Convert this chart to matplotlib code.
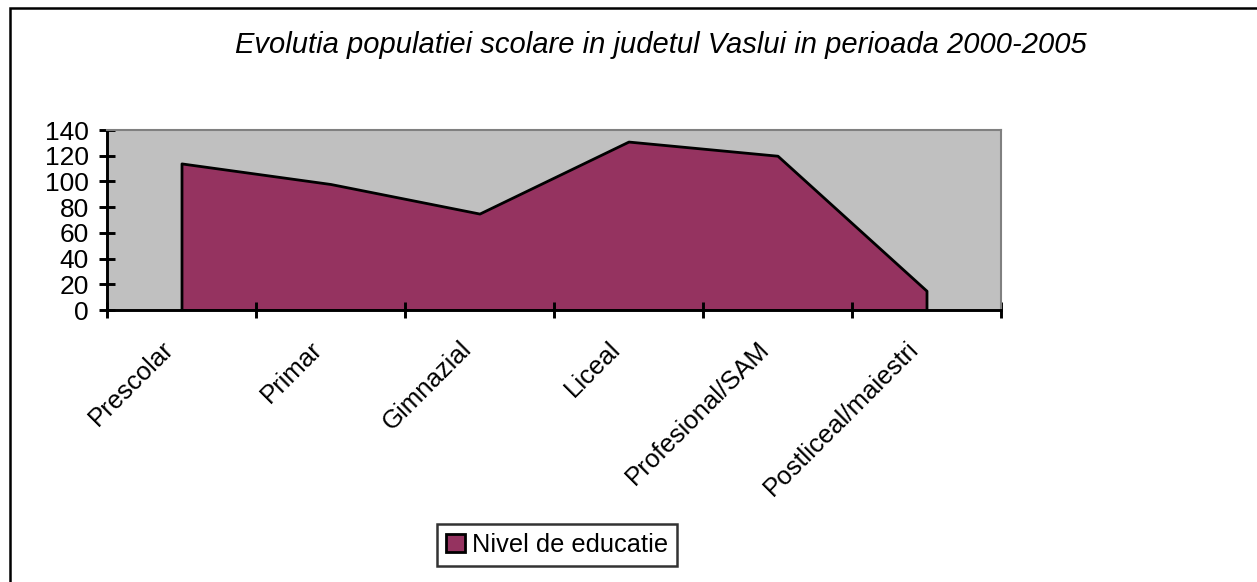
import numpy as np
from matplotlib import pyplot as plt
from matplotlib.patches import Rectangle, Patch

plt.rcParams['font.family'] = ['Liberation Sans', 'DejaVu Sans']

categories = ['Prescolar', 'Primar', 'Gimnazial', 'Liceal', 'Profesional/SAM', 'Postliceal/maiestri']
values = [114, 98, 75, 131, 120, 15]
series_name = 'Nivel de educatie'
title = 'Evolutia populatiei scolare in judetul Vaslui in perioada 2000-2005'
yticks = [0, 20, 40, 60, 80, 100, 120, 140]

W, H = 1257, 582
fig = plt.figure(figsize=(W / 100, H / 100), dpi=100)

# outer chart border (runs off the right and bottom edge)
fig.patches.append(Rectangle((10 / W, -0.05), 1.1, 1 - 8 / H + 0.05, transform=fig.transFigure,
                             fill=False, edgecolor='black', linewidth=1.8))

ax = fig.add_axes([107 / W, 1 - 310 / H, (1001 - 107) / W, (310 - 130) / H])
ax.set_facecolor('#C0C0C0')

x = np.arange(len(categories))
ax.fill_between(x, values, 0, facecolor='#953360', edgecolor='black', linewidth=2)

ax.set_xlim(-0.5, len(categories) - 0.5)
ax.set_ylim(0, 140)
ax.set_yticks(yticks)
ax.set_xticks(np.arange(len(categories) + 1) - 0.5)
ax.set_xticklabels([])
ax.tick_params(axis='both', direction='inout', length=12, width=2.1, color='black')
ax.tick_params(axis='y', labelsize=19, pad=7)

for s in ['top', 'right']:
    ax.spines[s].set_color('#808080')
    ax.spines[s].set_linewidth(1.5)
for s in ['left', 'bottom']:
    ax.spines[s].set_color('black')
    ax.spines[s].set_linewidth(2.1)

for i, lab in enumerate(categories):
    ax.annotate(lab, xy=(i, 0), xycoords=('data', 'axes fraction'),
                xytext=(-20, -27), textcoords='offset pixels',
                rotation=45, ha='right', va='top', rotation_mode='anchor', fontsize=18.5)

fig.text(661 / W, 1 - 45 / H, title, ha='center', va='center', fontsize=21, style='italic')

leg = fig.legend(handles=[Patch(facecolor='#953360', edgecolor='black', linewidth=2, label=series_name)],
                 loc='center', bbox_to_anchor=(557 / W, 1 - 545 / H), fontsize=18.3,
                 frameon=True, fancybox=False, edgecolor='black', handlelength=0.75, handleheight=0.75,
                 handletextpad=0.3, borderpad=0.35)
leg.get_frame().set_linewidth(1.8)

fig.savefig('out.png', dpi=100)
